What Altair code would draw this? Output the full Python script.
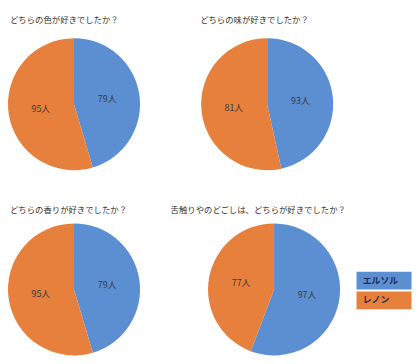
import altair as alt
import pandas as pd

questions = [
    "どちらの色が好きでしたか？",
    "どちらの味が好きでしたか？",
    "どちらの香りが好きでしたか？",
    "舌触りやのどごしは、どちらが好きでしたか？",
]
series = ["エルソル", "レノン"]
# slice sizes as drawn
elsol_values = [79, 81, 79, 97]
lenon_values = [95, 93, 95, 77]
# numbers printed on the slices
elsol_labels = [79, 93, 79, 97]
lenon_labels = [95, 81, 95, 77]
colors = ["#5B8FD2", "#E8803D"]

rows = []
for i, q in enumerate(questions):
    rows.append(dict(question=q, series=series[0], idx=0,
                     value=elsol_values[i], label=f"{elsol_labels[i]}人"))
    rows.append(dict(question=q, series=series[1], idx=1,
                     value=lenon_values[i], label=f"{lenon_labels[i]}人"))
df = pd.DataFrame(rows)

FONT = "Noto Sans CJK JP"

legend = alt.Legend(
    title=None,
    orient="none",
    legendX=342,
    legendY=237,
    symbolType="M0.3,-1H6.5V1H0.3Z",
    symbolSize=324,
    symbolStrokeWidth=0,
    symbolOpacity=1,
    labelOffset=0,
    labelFont=FONT,
    labelFontSize=9,
    labelFontWeight="bold",
    labelColor="#1F2F4F",
    rowPadding=2,
    padding=0,
)
color_enc = alt.Color("series:N", scale=alt.Scale(domain=series, range=colors), legend=legend)


def panel(i, w, dx, offset):
    base = alt.Chart(df).transform_filter(
        alt.datum.question == questions[i]
    ).encode(
        theta=alt.Theta("value:Q", stack=True),
        order=alt.Order("idx:Q", sort="ascending"),
    )
    arc = base.mark_arc(outerRadius=67).encode(color=color_enc)
    text = base.mark_text(radius=34, font=FONT, fontSize=9, color="#3A3A3A").encode(
        text="label:N", detail="series:N"
    )
    return alt.layer(arc, text).properties(
        width=w,
        height=134,
        title=alt.TitleParams(
            questions[i], anchor="start", dx=dx, offset=offset,
            font=FONT, fontSize=8.5, fontWeight="normal", color="#333333",
        ),
    )


row1 = alt.hconcat(panel(0, 134, 2, 14), panel(1, 136, 0, 14), spacing=61)
row2 = alt.hconcat(panel(2, 134, 2, 9), panel(3, 210, 0, 9), spacing=31)
chart = (
    alt.vconcat(row1, row2, spacing=36)
    .resolve_scale(color="shared")
    .properties(padding={"left": 0, "top": 5, "right": 0, "bottom": 0})
    .configure_view(stroke=None)
)
chart.save("out.html", embed_options={"renderer": "svg", "actions": False})
